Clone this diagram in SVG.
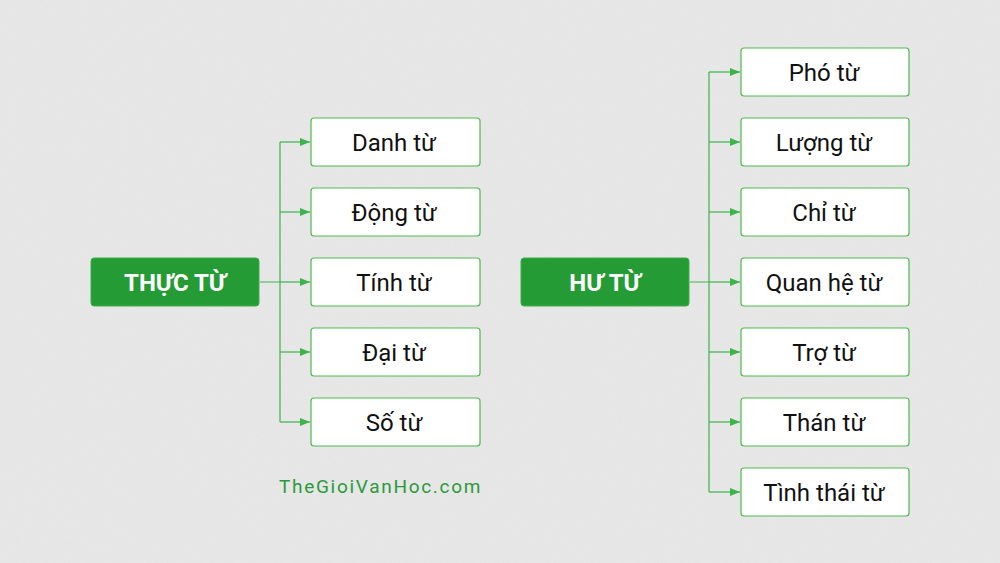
<svg xmlns="http://www.w3.org/2000/svg" width="1000" height="563" viewBox="0 0 1000 563">
<defs>
<style>
.box{fill:#fff;stroke:#4cbb4c;stroke-width:1.2}
.root{fill:#259b35;stroke:#3fae48;stroke-width:1}
.t{font-family:Roboto,"Liberation Sans",sans-serif;font-size:24px;fill:#111;text-anchor:middle;dominant-baseline:central}
.rt{font-family:Roboto,"Liberation Sans",sans-serif;font-size:24px;font-weight:bold;fill:#fff;text-anchor:middle;dominant-baseline:central}
.c{fill:none;stroke:#3cb44b;stroke-width:1.2}
.wm{font-family:Roboto,"Liberation Sans",sans-serif;font-size:19px;fill:#2a9a3a;letter-spacing:1.7px}
</style>
<marker id="ah" viewBox="0 0 10 10" refX="10" refY="5" markerWidth="10" markerHeight="10" markerUnits="userSpaceOnUse" orient="auto">
<path d="M0,1 L10,5 L0,9 z" fill="#3cb44b"/>
</marker>
<filter id="noise"><feTurbulence type="fractalNoise" baseFrequency="0.9" numOctaves="2" seed="3"/><feColorMatrix values="0 0 0 0 0.5  0 0 0 0 0.5  0 0 0 0 0.5  0 0 0 0.12 0"/></filter>
</defs>
<rect width="1000" height="563" fill="#e9e9e9"/>
<rect width="1000" height="563" filter="url(#noise)"/>
<g id="connectors">
<path class="c" d="M260,282 H280 M280,142 V422"/>
<path class="c" d="M280,142 H310" marker-end="url(#ah)"/>
<path class="c" d="M280,212 H310" marker-end="url(#ah)"/>
<path class="c" d="M280,282 H310" marker-end="url(#ah)"/>
<path class="c" d="M280,352 H310" marker-end="url(#ah)"/>
<path class="c" d="M280,422 H310" marker-end="url(#ah)"/>
<path class="c" d="M690,282 H709 M709,72 V492"/>
<path class="c" d="M709,72 H740" marker-end="url(#ah)"/>
<path class="c" d="M709,142 H740" marker-end="url(#ah)"/>
<path class="c" d="M709,212 H740" marker-end="url(#ah)"/>
<path class="c" d="M709,282 H740" marker-end="url(#ah)"/>
<path class="c" d="M709,352 H740" marker-end="url(#ah)"/>
<path class="c" d="M709,422 H740" marker-end="url(#ah)"/>
<path class="c" d="M709,492 H740" marker-end="url(#ah)"/>
</g>
<g id="thuc-tu"><rect class="root" x="91" y="258" width="168" height="48" rx="3"/><text class="rt" x="175" y="283">THỰC TỪ</text></g>
<g id="danh-tu"><rect class="box" x="311" y="118" width="169" height="48" rx="3"/><text class="t" x="394" y="143">Danh từ</text></g>
<g id="dong-tu"><rect class="box" x="311" y="188" width="169" height="48" rx="3"/><text class="t" x="394" y="213">Động từ</text></g>
<g id="tinh-tu"><rect class="box" x="311" y="258" width="169" height="48" rx="3"/><text class="t" x="394" y="283">Tính từ</text></g>
<g id="dai-tu"><rect class="box" x="311" y="328" width="169" height="48" rx="3"/><text class="t" x="394" y="353">Đại từ</text></g>
<g id="so-tu"><rect class="box" x="311" y="398" width="169" height="48" rx="3"/><text class="t" x="394" y="423">Số từ</text></g>
<g id="hu-tu"><rect class="root" x="521" y="258" width="168" height="48" rx="3"/><text class="rt" x="605" y="283">HƯ TỪ</text></g>
<g id="pho-tu"><rect class="box" x="741" y="48" width="168" height="48" rx="3"/><text class="t" x="824" y="73">Phó từ</text></g>
<g id="luong-tu"><rect class="box" x="741" y="118" width="168" height="48" rx="3"/><text class="t" x="824" y="143">Lượng từ</text></g>
<g id="chi-tu"><rect class="box" x="741" y="188" width="168" height="48" rx="3"/><text class="t" x="824" y="213">Chỉ từ</text></g>
<g id="quan-he-tu"><rect class="box" x="741" y="258" width="168" height="48" rx="3"/><text class="t" x="824" y="283">Quan hệ từ</text></g>
<g id="tro-tu"><rect class="box" x="741" y="328" width="168" height="48" rx="3"/><text class="t" x="824" y="353">Trợ từ</text></g>
<g id="than-tu"><rect class="box" x="741" y="398" width="168" height="48" rx="3"/><text class="t" x="824" y="423">Thán từ</text></g>
<g id="tinh-thai-tu"><rect class="box" x="741" y="468" width="168" height="48" rx="3"/><text class="t" x="824" y="493">Tình thái từ</text></g>
<text class="wm" x="279" y="493">TheGioiVanHoc.com</text>
</svg>
